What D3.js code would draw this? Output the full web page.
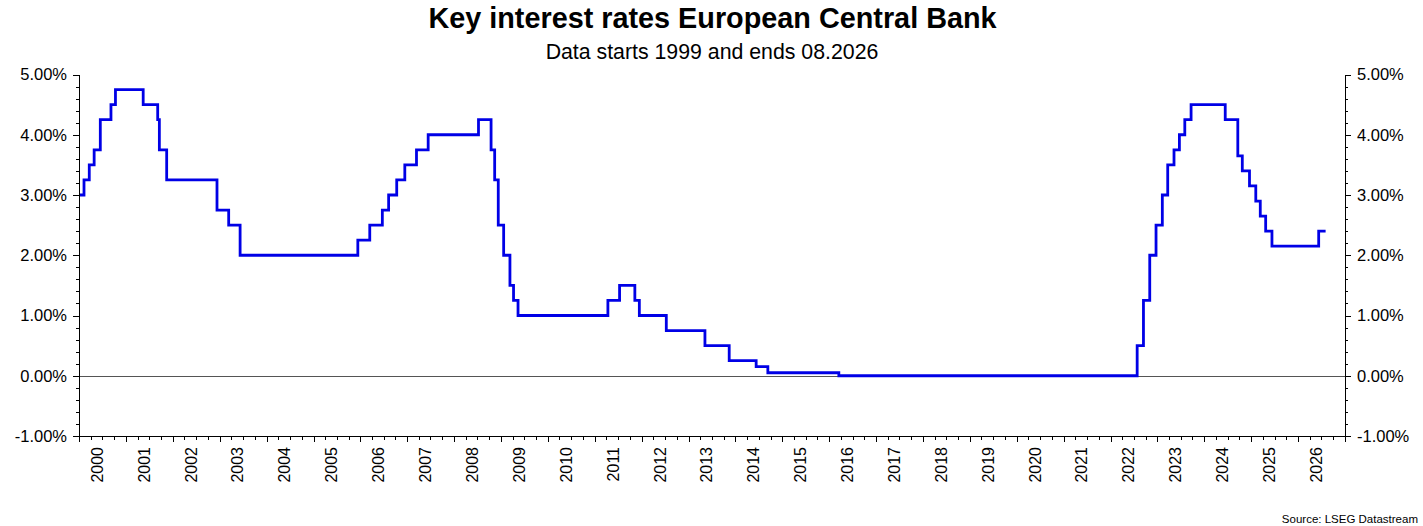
<!DOCTYPE html>
<html>
<head>
<meta charset="utf-8">
<script src="https://cdn.jsdelivr.net/npm/d3@7"></script>
<style>
  body { margin: 0; background: #fff; }
  svg { display: block; font-family: "Liberation Sans", Arial, sans-serif; }
</style>
</head>
<body>
<div id="plot"></div>
<script>
// ECB main refinancing rate, effective dates of each change (%)
const changeDates = [
  "1999-01-01", "1999-04-09", "1999-11-10",
  "2000-02-09", "2000-03-21", "2000-04-28", "2000-06-15", "2000-09-06", "2000-10-11",
  "2001-05-15", "2001-09-05", "2001-09-18", "2001-11-14",
  "2002-12-11", "2003-03-12", "2003-06-09",
  "2005-12-12", "2006-03-15", "2006-06-21", "2006-08-09", "2006-10-11", "2006-12-13",
  "2007-03-14", "2007-06-13",
  "2008-07-09", "2008-10-15", "2008-11-12", "2008-12-10",
  "2009-01-21", "2009-03-11", "2009-04-08", "2009-05-13",
  "2011-04-13", "2011-07-13", "2011-11-09", "2011-12-14",
  "2012-07-11", "2013-05-08", "2013-11-13", "2014-06-11", "2014-09-10",
  "2016-03-16",
  "2022-07-27", "2022-09-14", "2022-11-02", "2022-12-21",
  "2023-02-08", "2023-03-22", "2023-05-10", "2023-06-21", "2023-08-02", "2023-09-20",
  "2024-06-12", "2024-09-18", "2024-10-23", "2024-12-18",
  "2025-02-05", "2025-03-12", "2025-04-23", "2025-06-11",
  "2026-06-10", "2026-08-03"
];
const rates = [
  3.00, 2.50, 3.00,
  3.25, 3.50, 3.75, 4.25, 4.50, 4.75,
  4.50, 4.25, 3.75, 3.25,
  2.75, 2.50, 2.00,
  2.25, 2.50, 2.75, 3.00, 3.25, 3.50,
  3.75, 4.00,
  4.25, 3.75, 3.25, 2.50,
  2.00, 1.50, 1.25, 1.00,
  1.25, 1.50, 1.25, 1.00,
  0.75, 0.50, 0.25, 0.15, 0.05,
  0.00,
  0.50, 1.25, 2.00, 2.50,
  3.00, 3.50, 3.75, 4.00, 4.25, 4.50,
  4.25, 3.65, 3.40, 3.15,
  2.90, 2.65, 2.40, 2.15,
  2.40, 2.40
];
const yTicks = [-1, 0, 1, 2, 3, 4, 5];
const years = d3.range(2000, 2027);

const titleText = "Key interest rates European Central Bank";
const subtitleText = "Data starts 1999 and ends 08.2026";
const sourceText = "Source: LSEG Datastream";

const width = 1423, height = 526;
const plotLeft = 79, plotRight = 1345, plotTop = 74.5, plotBottom = 436;

const parse = d3.timeParse("%Y-%m-%d");
const data = changeDates.map((d, i) => ({ date: parse(d), value: rates[i] }));

const svg = d3.select("#plot").append("svg")
  .attr("width", width)
  .attr("height", height);

const x = d3.scaleTime()
  .domain([new Date(2000, 0, 1), new Date(2027, 0, 1)])
  .range([plotLeft, plotRight]);
const y = d3.scaleLinear()
  .domain([-1, 5])
  .range([plotBottom, plotTop]);

// titles
svg.append("text")
  .attr("x", width / 2 + 1).attr("y", 28)
  .attr("text-anchor", "middle")
  .style("font-size", "28.8px").style("font-weight", "bold")
  .text(titleText);
svg.append("text")
  .attr("x", width / 2 + 0.5).attr("y", 58.5)
  .attr("text-anchor", "middle")
  .style("font-size", "21.3px")
  .text(subtitleText);

// zero line
svg.append("line")
  .attr("x1", plotLeft).attr("x2", plotRight)
  .attr("y1", Math.round(y(0)) + 0.5).attr("y2", Math.round(y(0)) + 0.5)
  .attr("stroke", "#555").attr("stroke-width", 1);

// the rate line, clipped to the plot area
svg.append("clipPath").attr("id", "clip")
  .append("rect")
  .attr("x", plotLeft).attr("y", plotTop - 5)
  .attr("width", plotRight - plotLeft).attr("height", plotBottom - plotTop + 5);

const line = d3.line()
  .x(d => x(d.date))
  .y(d => y(d.value))
  .curve(d3.curveStepAfter);

svg.append("path")
  .datum(data)
  .attr("clip-path", "url(#clip)")
  .attr("fill", "none")
  .attr("stroke", "#0000E6")
  .attr("stroke-width", 2.8)
  .attr("stroke-linejoin", "miter")
  .attr("d", line);

// y axes
const fmt = v => v.toFixed(2) + "%";
function styleAxis(g) {
  g.selectAll("path, line").attr("stroke", "#000").attr("shape-rendering", "crispEdges");
  g.selectAll("text").style("font-size", "16.5px").attr("fill", "#000")
    .style("font-family", "'Liberation Sans', Arial, sans-serif");
}
const minorY = d3.range(-1, 5.001, 0.2);

svg.append("g")
  .attr("transform", `translate(${plotLeft},0)`)
  .call(d3.axisLeft(y).tickValues(minorY).tickSize(3).tickSizeOuter(0).tickFormat(""))
  .call(styleAxis);
svg.append("g")
  .attr("transform", `translate(${plotLeft},0)`)
  .call(d3.axisLeft(y).tickValues(yTicks).tickSize(6).tickSizeOuter(0).tickPadding(6).tickFormat(fmt))
  .call(styleAxis);

svg.append("g")
  .attr("transform", `translate(${plotRight},0)`)
  .call(d3.axisRight(y).tickValues(minorY).tickSize(3).tickSizeOuter(0).tickFormat(""))
  .call(styleAxis);
svg.append("g")
  .attr("transform", `translate(${plotRight},0)`)
  .call(d3.axisRight(y).tickValues(yTicks).tickSize(6).tickSizeOuter(0).tickPadding(6).tickFormat(fmt))
  .call(styleAxis);

// x axis
svg.append("g")
  .attr("transform", `translate(0,${plotBottom})`)
  .call(d3.axisBottom(x).ticks(d3.timeMonth.every(3)).tickSize(3.5).tickSizeOuter(0).tickFormat(""))
  .call(styleAxis);
svg.append("g")
  .attr("transform", `translate(0,${plotBottom})`)
  .call(d3.axisBottom(x).ticks(d3.timeYear.every(1)).tickSize(6).tickSizeOuter(0).tickFormat(""))
  .call(styleAxis);

svg.append("g").selectAll("text")
  .data(years)
  .join("text")
  .attr("transform", d => `translate(${x(new Date(d, 6, 1)) + 0.5},447) rotate(-90)`)
  .attr("text-anchor", "end")
  .style("font-size", "16px")
  .text(d => d);

// source
svg.append("text")
  .attr("x", 1418).attr("y", 523)
  .attr("text-anchor", "end")
  .style("font-size", "11.5px")
  .text(sourceText);
</script>
</body>
</html>
